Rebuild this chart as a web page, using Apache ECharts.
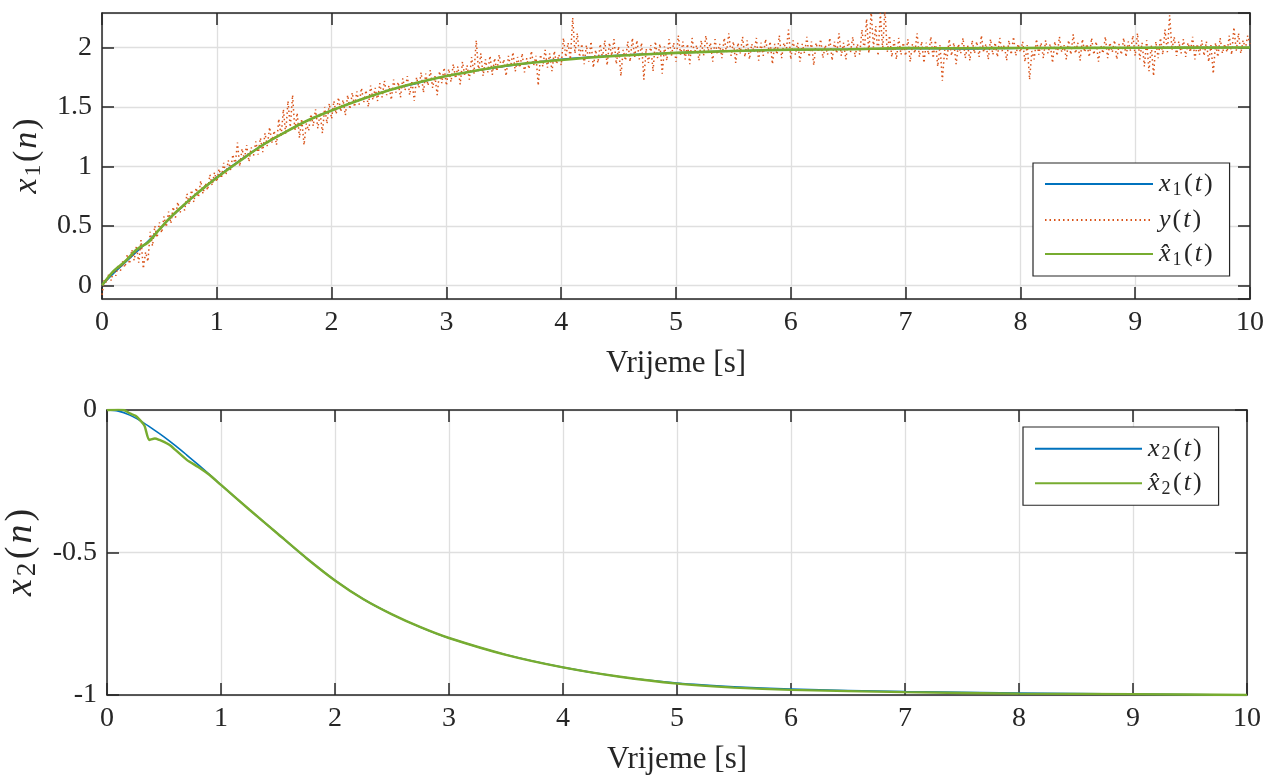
<!DOCTYPE html>
<html><head><meta charset="utf-8">
<script src="https://cdn.jsdelivr.net/npm/echarts@6/dist/echarts.min.js"></script>
<style>html,body{margin:0;padding:0;background:#fff}#c{width:1266px;height:777px}</style>
</head><body><div id="c"></div>
<script>
// ---- data ----
const noiseStep = 0.02; // sampling interval of measured y(t) [s]
const yNoisy = [
-0.08,0.05,0.02,0.10,0.04,0.13,0.08,0.17,0.12,0.20,
0.15,0.26,0.18,0.30,0.21,0.33,0.19,0.38,0.14,0.28,
0.20,0.45,0.33,0.50,0.40,0.53,0.44,0.58,0.49,0.62,
0.52,0.66,0.57,0.70,0.61,0.68,0.63,0.77,0.68,0.80,
0.70,0.82,0.74,0.88,0.77,0.86,0.80,0.93,0.84,0.95,
0.87,0.98,0.90,1.03,0.93,1.05,0.97,1.10,1.01,1.20,
1.00,1.15,1.06,1.18,1.04,1.16,1.09,1.21,1.10,1.24,
1.12,1.28,1.17,1.33,1.20,1.30,1.18,1.40,1.25,1.48,
1.27,1.55,1.33,1.60,1.30,1.45,1.24,1.40,1.18,1.36,
1.30,1.44,1.34,1.48,1.32,1.45,1.28,1.50,1.36,1.53,
1.40,1.55,1.44,1.58,1.46,1.56,1.43,1.60,1.48,1.62,
1.50,1.63,1.52,1.66,1.54,1.64,1.50,1.68,1.56,1.66,
1.55,1.70,1.58,1.72,1.60,1.68,1.56,1.73,1.62,1.71,
1.58,1.74,1.64,1.76,1.60,1.72,1.55,1.75,1.66,1.79,
1.62,1.78,1.68,1.81,1.66,1.76,1.60,1.80,1.70,1.83,
1.68,1.82,1.71,1.86,1.74,1.84,1.69,1.88,1.76,1.85,
1.73,1.92,1.78,2.06,1.80,1.95,1.76,1.90,1.79,1.93,
1.77,1.91,1.80,1.94,1.82,1.90,1.76,1.93,1.84,1.96,
1.80,1.92,1.83,1.95,1.79,1.91,1.82,1.97,1.85,1.93,
1.68,1.94,1.84,1.98,1.83,1.95,1.80,1.97,1.86,1.94,
1.85,2.08,1.92,2.04,1.90,2.25,1.95,2.12,1.92,2.03,
1.86,2.02,1.88,2.05,1.83,1.98,1.87,2.03,1.91,2.06,
1.85,2.04,1.93,2.07,1.86,2.01,1.76,1.98,1.89,2.05,
1.88,2.08,1.92,2.06,1.90,2.04,1.73,1.99,1.87,2.02,
1.80,2.05,1.91,2.03,1.78,2.01,1.89,2.07,1.93,2.04,
1.88,2.10,1.94,2.05,1.90,2.03,1.86,2.08,1.95,2.02,
1.89,2.06,1.93,2.10,1.97,2.04,1.88,2.07,1.94,2.03,
1.91,2.08,1.96,2.12,1.93,2.05,1.87,2.04,1.95,2.09,
1.92,2.06,1.90,2.03,1.96,2.08,1.89,2.04,1.93,2.07,
1.95,2.05,1.86,2.03,1.94,2.10,1.91,2.04,1.97,2.15,
1.90,2.06,1.94,2.04,1.88,2.03,1.95,2.09,1.92,2.05,
1.85,2.04,1.96,2.07,1.91,2.02,1.94,2.08,1.89,2.05,
1.95,2.12,1.93,2.04,1.90,2.06,1.96,2.09,1.92,2.03,
1.94,2.15,1.97,2.24,1.95,2.31,2.00,2.18,1.93,2.29,
1.98,2.32,1.96,2.10,1.92,2.06,1.90,2.08,1.94,2.04,
1.93,2.07,1.88,2.03,1.95,2.12,1.92,2.05,1.87,2.04,
1.94,2.09,1.91,2.06,1.84,2.02,1.72,1.98,1.90,2.07,
1.93,2.04,1.86,2.03,1.95,2.08,1.91,2.02,1.89,2.06,
1.95,2.05,1.92,2.10,1.96,2.03,1.90,2.07,1.94,2.04,
1.92,2.08,1.97,2.02,1.89,2.06,1.94,2.09,1.93,2.03,
1.96,2.05,1.88,2.02,1.73,1.97,1.90,2.07,1.94,2.04,
1.91,2.06,1.95,2.03,1.87,2.05,1.93,2.09,1.96,2.02,
1.90,2.06,1.94,2.11,1.95,2.04,1.89,2.07,1.96,2.03,
1.92,2.08,1.94,2.05,1.88,2.02,1.95,2.09,1.91,2.04,
1.96,2.06,1.90,2.03,1.94,2.08,1.92,2.05,1.97,2.10,
1.93,2.12,1.90,2.04,1.84,2.06,1.80,2.02,1.76,2.05,
1.91,2.08,1.94,2.15,1.96,2.27,1.98,2.09,1.93,2.05,
1.95,2.07,1.92,2.04,1.96,2.09,1.90,2.03,1.94,2.06,
1.93,2.05,1.88,2.02,1.78,2.04,1.92,2.08,1.95,2.03,
1.96,2.10,1.94,2.17,1.97,2.12,1.95,2.06,1.99,2.10,
2.03];
const x1Time = [0,0.1,0.2,0.3,0.4,0.5,0.6,0.7,0.8,0.9,1.0,1.2,1.4,1.6,1.8,2.0,2.25,2.5,2.75,3.0,3.5,4.0,4.5,5.0,5.5,6.0,6.5,7.0,7.5,8.0,9.0,10.0];
const x1True = [0,0.10,0.19,0.28,0.37,0.47,0.57,0.66,0.75,0.83,0.91,1.05,1.18,1.29,1.39,1.47,1.56,1.64,1.70,1.76,1.84,1.90,1.935,1.955,1.97,1.98,1.985,1.99,1.988,1.995,1.998,2.0];
const x1Hat  = [0,0.12,0.20,0.30,0.36,0.47,0.575,0.665,0.75,0.83,0.905,1.045,1.18,1.29,1.39,1.47,1.56,1.64,1.705,1.76,1.845,1.895,1.93,1.955,1.97,1.982,1.985,1.995,1.993,1.996,1.998,2.0];
const x2Time = [0,0.1,0.2,0.3,0.4,0.5,0.6,0.7,0.8,0.9,1.0,1.25,1.5,1.75,2.0,2.25,2.5,2.75,3.0,3.5,4.0,4.5,5.0,5.5,6.0,7.0,8.0,9.0,10.0];
const x2True = [0,-0.004,-0.018,-0.040,-0.066,-0.094,-0.125,-0.158,-0.192,-0.227,-0.263,-0.35,-0.435,-0.52,-0.598,-0.664,-0.717,-0.762,-0.80,-0.859,-0.903,-0.936,-0.958,-0.971,-0.979,-0.988,-0.993,-0.997,-1.0];
const x2HatTime = [0,0.1,0.15,0.2,0.25,0.3,0.33,0.37,0.42,0.46,0.5,0.55,0.6,0.7,0.8,0.9,1.0,1.25,1.5,1.75,2.0,2.25,2.5,2.75,3.0,3.5,4.0,4.5,5.0,5.5,6.0,7.0,8.0,9.0,10.0];
const x2Hat = [0,0.002,0.0,-0.012,-0.02,-0.04,-0.056,-0.105,-0.10,-0.105,-0.112,-0.123,-0.14,-0.175,-0.20,-0.228,-0.263,-0.35,-0.435,-0.52,-0.598,-0.664,-0.717,-0.762,-0.80,-0.859,-0.903,-0.936,-0.96,-0.974,-0.982,-0.99,-0.995,-0.997,-1.0];
const xTitle = 'Vrijeme [s]';

// ---- build ----
const pairs = (t, v) => t.map((tt, i) => [tt, v[i]]);
const noisyPairs = yNoisy.map((v, i) => [+(i * noiseStep).toFixed(2), v]);

const FONT = 'Liberation Serif';
const INK = '#262626';
const BLUE = '#0072BD', ORANGE = '#D95319', GREEN = '#77AC30';

const mathRich = (fs, px) => ({
  i: {fontFamily: FONT, fontStyle: 'italic', fontSize: fs, color: INK, lineHeight: fs + 4, padding: [0, px]},
  r: {fontFamily: FONT, fontSize: fs, color: INK, lineHeight: fs + 4, padding: [0, px]},
  s: {fontFamily: FONT, fontSize: Math.round(fs * 0.7), color: INK, lineHeight: Math.round(fs * 0.7), verticalAlign: 'bottom', padding: [0, px + 0.5, 0, px]}
});

const legendNames = {
  x1: '{i|x}{s|1}{r|(}{i|t}{r|)}',
  y: '{i|y}{r|(}{i|t}{r|)}',
  xh1: '{i|x\u0302}{s|1}{r|(}{i|t}{r|)}',
  x2: '{i|x}{s|2}{r|(}{i|t}{r|)}',
  xh2: '{i|x\u0302}{s|2}{r|(}{i|t}{r|)}'
};

const labelStyle = {fontFamily: FONT, fontSize: 28, color: INK};
function mainX(grid, name) {
  return {
    type: 'value', gridIndex: grid, min: 0, max: 10, interval: 1, position: 'bottom',
    name: name, nameLocation: 'middle', nameGap: 49,
    nameTextStyle: {fontFamily: FONT, fontSize: 31, color: INK},
    axisLine: {onZero: false, lineStyle: {color: INK, width: 1.5}},
    axisTick: {inside: true, length: 12, lineStyle: {color: INK, width: 1.5}},
    axisLabel: Object.assign({margin: 10}, labelStyle),
    splitLine: {show: true, lineStyle: {color: '#dfdfdf', width: 1.3}}
  };
}
function topX(grid) {
  return {
    type: 'value', gridIndex: grid, min: 0, max: 10, interval: 1, position: 'top',
    axisLine: {onZero: false, lineStyle: {color: INK, width: 1.5}},
    axisTick: {inside: true, length: 12, lineStyle: {color: INK, width: 1.5}},
    axisLabel: {show: false}, splitLine: {show: false}
  };
}
function yAx(grid, pos, opts, show) {
  return Object.assign({
    type: 'value', gridIndex: grid, position: pos,
    axisLine: {onZero: false, lineStyle: {color: INK, width: 1.5}},
    axisTick: {inside: true, length: 12, lineStyle: {color: INK, width: 1.5}},
    axisLabel: show ? Object.assign({margin: 10, showMinLabel: opts.showMin, showMaxLabel: opts.showMax}, labelStyle) : {show: false},
    splitLine: {show: show, lineStyle: {color: '#dfdfdf', width: 1.3}}
  }, opts.base);
}

const topY = {min: -0.115, max: 2.29, splitNumber: 5};
const botY = {min: -1, max: 0, interval: 0.5};

const legendCommon = {
  orient: 'vertical', itemWidth: 108, itemHeight: 20,
  backgroundColor: '#fff', borderColor: INK, borderWidth: 1.2, borderRadius: 0,
  itemStyle: {opacity: 0},
  formatter: n => legendNames[n], textStyle: {rich: mathRich(26, 1)}
};

const option = {
  backgroundColor: '#fff',
  animation: false,
  grid: [
    {left: 102, right: 16, top: 13, height: 286, outerBoundsMode: 'none', containLabel: false},
    {left: 107, right: 19, top: 410, height: 285, outerBoundsMode: 'none', containLabel: false}
  ],
  xAxis: [mainX(0, xTitle), topX(0), mainX(1, xTitle), topX(1)],
  yAxis: [
    Object.assign(yAx(0, 'left', {base: topY, showMin: false, showMax: false}, true), {
      name: '{i|x}{s|1}{r|(}{i|n}{r|)}', nameLocation: 'middle', nameGap: 54, nameRotate: 90,
      nameTextStyle: {rich: mathRich(34, 1)}
    }),
    yAx(0, 'right', {base: topY}, false),
    Object.assign(yAx(1, 'left', {base: botY, showMin: true, showMax: true}, true), {
      name: '{i|x}{s|2}{r|(}{i|n}{r|)}', nameLocation: 'middle', nameGap: 56, nameRotate: 90,
      nameTextStyle: {rich: mathRich(38, 1.5)}
    }),
    yAx(1, 'right', {base: botY}, false)
  ],
  legend: [
    Object.assign({}, legendCommon, {
      data: ['x1', 'y', 'xh1'], left: 1033, top: 163,
      padding: [8, 16, 7, 11], itemGap: 8
    }),
    Object.assign({}, legendCommon, {
      data: ['x2', 'xh2'], left: 1023, top: 427,
      padding: [8.75, 16, 7, 11], itemWidth: 107, itemGap: 6.5
    })
  ],
  series: [
    {name: 'x1', type: 'line', xAxisIndex: 0, yAxisIndex: 0, data: pairs(x1Time, x1True),
     symbol: 'none', smooth: 0.35, lineStyle: {color: BLUE, width: 1.6}, itemStyle: {color: BLUE}, z: 2},
    {name: 'y', type: 'line', xAxisIndex: 0, yAxisIndex: 0, data: noisyPairs,
     symbol: 'none', lineStyle: {color: ORANGE, width: 1.5, type: [1.5, 3]}, itemStyle: {color: ORANGE}, z: 3},
    {name: 'xh1', type: 'line', xAxisIndex: 0, yAxisIndex: 0, data: pairs(x1Time, x1Hat),
     symbol: 'none', smooth: 0.3, lineStyle: {color: GREEN, width: 2.6}, itemStyle: {color: GREEN}, z: 4},
    {name: 'x2', type: 'line', xAxisIndex: 2, yAxisIndex: 2, data: pairs(x2Time, x2True),
     symbol: 'none', smooth: 0.35, lineStyle: {color: BLUE, width: 1.6}, itemStyle: {color: BLUE}, z: 2},
    {name: 'xh2', type: 'line', xAxisIndex: 2, yAxisIndex: 2, data: pairs(x2HatTime, x2Hat),
     symbol: 'none', smooth: 0.2, lineStyle: {color: GREEN, width: 2.4}, itemStyle: {color: GREEN}, z: 3}
  ]
};

const chart = echarts.init(document.getElementById('c'), null, {renderer: 'canvas'});
chart.setOption(option);
</script>
</body></html>
